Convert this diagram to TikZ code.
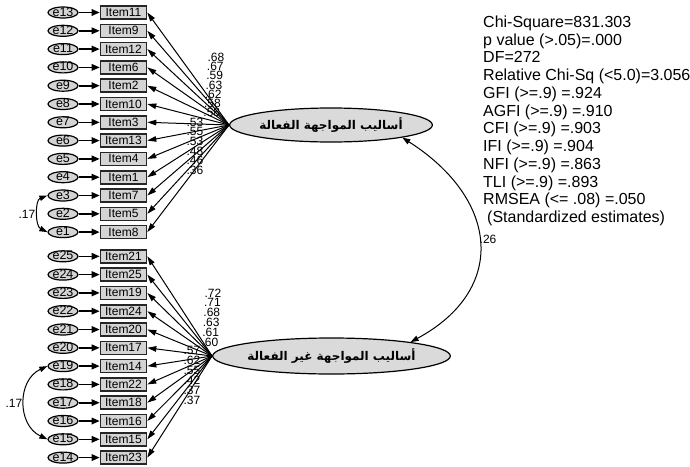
\documentclass[tikz,border=0pt]{standalone}
\usepackage{fontspec}
\setmainfont{Liberation Sans}
\newfontfamily\arabicfont[Script=Arabic]{DejaVu Sans}
\TeXXeTstate=1
\usetikzlibrary{arrows.meta,shapes.geometric,calc}
\definecolor{boxgray}{HTML}{D4D4D4}
\definecolor{latgray}{HTML}{DADADA}

\begin{document}
\begin{tikzpicture}[x=1pt,y=-1pt,
  errnode/.style={ellipse,draw=black,line width=1.2pt,fill=boxgray,inner sep=0pt,
    minimum width=30pt,minimum height=11pt,text height=7pt,text depth=0pt,
    font=\fontsize{12.5}{12.5}\selectfont},
  itembox/.style={rectangle,draw=black!85,line width=1.6pt,fill=boxgray,inner sep=0pt,
    minimum width=46pt,minimum height=13pt,text height=8pt,text depth=0pt,
    font=\fontsize{12}{12}\selectfont},
  latent/.style={ellipse,draw=black,line width=1.2pt,fill=latgray,inner sep=0pt,
    font=\fontsize{12}{12}\selectfont\arabicfont\bfseries},
  errarrow/.style={line width=1.6pt,-{Triangle[length=8pt,width=6.5pt]}},
  load/.style={line width=1pt,-{Triangle[length=9pt,width=5.5pt]}},
  cov/.style={line width=1pt,{Triangle[length=8pt,width=5.5pt]}-{Triangle[length=8pt,width=5.5pt]}},
  est/.style={inner sep=0pt,font=\fontsize{12}{12}\selectfont},
  fit/.style={inner sep=0pt,anchor=base west,font=\fontsize{16}{16}\selectfont}
]
\useasboundingbox (0,0) rectangle (690,466);

% latent factors
\node[latent,minimum width=137pt,minimum height=34pt] (F1) at (331,125)
  {\beginR أساليب المواجهة الفعالة\endR};
\node[latent,minimum width=153pt,minimum height=36pt] (F2) at (331.5,356)
  {\beginR أساليب المواجهة غير الفعالة\endR};

% first factor: items and their errors
\foreach \it/\er [count=\i from 0] in {Item11/e13,Item9/e12,Item12/e11,Item6/e10,
    Item2/e9,Item10/e8,Item3/e7,Item13/e6,Item4/e5,Item1/e4,Item7/e3,Item5/e2,Item8/e1}{
  \node[itembox] (\it) at (123.5,{12.5+18.3*\i}) {\it};
  \node[errnode] (\er) at (63,{12.5+18.3*\i}) {\er};
  \draw[errarrow] (\er.east) -- (\it.west);
  \draw[load] (F1.west) -- (\it.east);
}

% second factor: items and their errors
\foreach \it/\er [count=\i from 0] in {Item21/e25,Item25/e24,Item19/e23,Item24/e22,
    Item20/e21,Item17/e20,Item14/e19,Item22/e18,Item18/e17,Item16/e16,Item15/e15,Item23/e14}{
  \node[itembox] (\it) at (123.5,{256.3+18.3*\i}) {\it};
  \node[errnode] (\er) at (63,{256.3+18.3*\i}) {\er};
  \draw[errarrow] (\er.east) -- (\it.west);
  \draw[load] (F2.west) -- (\it.east);
}

% standardized loadings
\foreach \v [count=\i from 0] in {.68,.67,.59,.63,.62,.58,.58}
  \node[est] (la\i) at ({216-0.7*\i},{57+9.3*\i}) {\v};
\foreach \v [count=\i from 0] in {.53,.55,.53,.48,.46,.36}
  \node[est] (lb\i) at (195,{122+9.7*\i}) {\v};
\foreach \v [count=\i from 0] in {.72,.71,.68,.63,.61,.60}
  \node[est] (lc\i) at ({213-0.6*\i},{293+9.8*\i}) {\v};
\foreach \v [count=\i from 0] in {.57,.62,.55,.42,.37,.37}
  \node[est] (ld\i) at (192,{350+10*\i}) {\v};

% error covariances
\draw[cov] (e3.west) .. controls (35,200) and (35,226) .. (e1.west);
\node[est] (c1) at (27,214) {.17};
\draw[cov] (e19.west) .. controls (17,380) and (17,425) .. (e15.west);
\node[est] (c2) at (14,403) {.17};

% factor correlation
\draw[cov] (F1.-10) .. controls (500,200) and (507,290) .. (F2.10);
\node[est] (r12) at (488,239) {.26};

% fit indices
\foreach \t [count=\k from 0] in {Chi-Square=831.303,p value (>.05)=.000,DF=272,
    Relative Chi-Sq (<5.0)=3.056,GFI (>=.9) =.924,AGFI (>=.9) =.910,
    CFI (>=.9) =.903,IFI (>=.9) =.904,NFI (>=.9) =.863,TLI (>=.9) =.893,
    RMSEA (<= .08) =.050}
  \node[fit] (fit\k) at (483,{27.4+17.75*\k}) {\t};
\node[fit] (fitnote) at (487,{27.4+17.75*11}) {(Standardized estimates)};
\end{tikzpicture}
\end{document}
